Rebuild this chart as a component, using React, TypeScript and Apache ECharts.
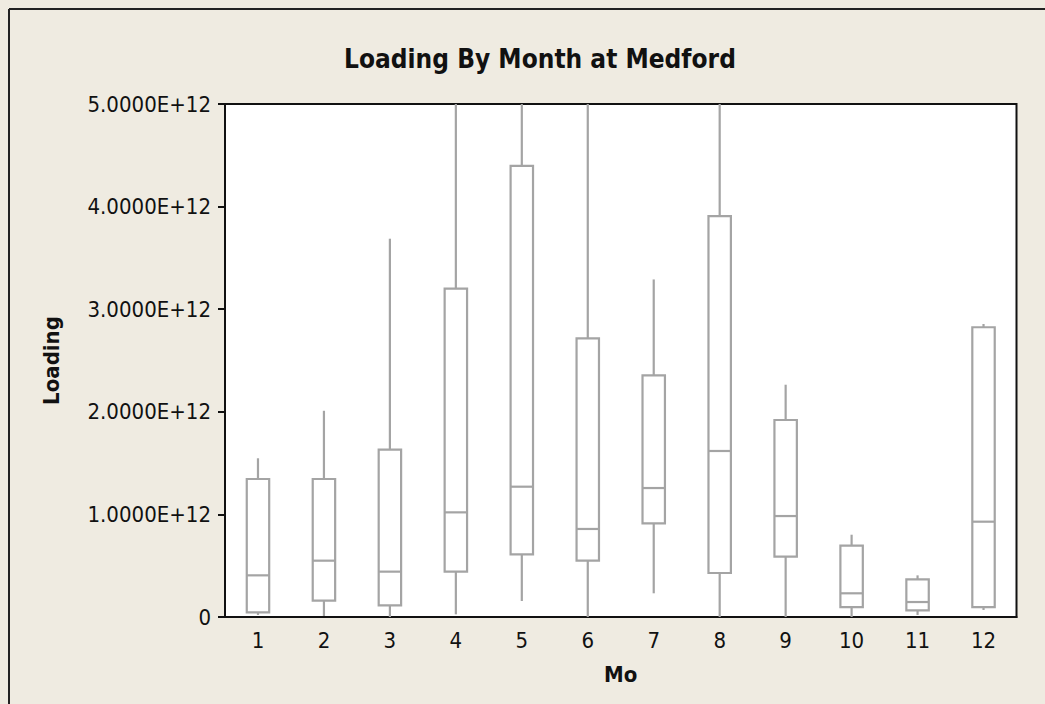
import React, { useEffect, useRef } from "react";
import * as echarts from "echarts";

// Monthly loading distribution at Medford (five-number summaries per month)
const months = ["1", "2", "3", "4", "5", "6", "7", "8", "9", "10", "11", "12"];
const lowWhisker = [0.02e12, 0.01e12, 0, 0.026e12, 0.156e12, 0, 0.231e12, 0, 0, 0, 0.02e12, 0.068e12];
const q1 = [0.046e12, 0.159e12, 0.114e12, 0.442e12, 0.611e12, 0.549e12, 0.913e12, 0.429e12, 0.588e12, 0.097e12, 0.065e12, 0.097e12];
const median = [0.406e12, 0.549e12, 0.442e12, 1.02e12, 1.27e12, 0.858e12, 1.257e12, 1.618e12, 0.984e12, 0.231e12, 0.146e12, 0.929e12];
const q3 = [1.345e12, 1.345e12, 1.631e12, 3.2e12, 4.396e12, 2.716e12, 2.355e12, 3.908e12, 1.92e12, 0.695e12, 0.367e12, 2.824e12];
const highWhisker = [1.547e12, 2.01e12, 3.687e12, 5.6e12, 5.8e12, 5.4e12, 3.29e12, 5.5e12, 2.264e12, 0.802e12, 0.406e12, 2.856e12];
const yTicks = [0, 1e12, 2e12, 3e12, 4e12, 5e12];

const Y_MAX = 5e12;
const FONT = "'DejaVu Sans Condensed', 'DejaVu Sans', Tahoma, sans-serif";
const BOX_COLOR = "#a4a4a4";

export default function App() {
  const ref = useRef<HTMLDivElement>(null);

  useEffect(() => {
    if (!ref.current) return;
    const chart = echarts.init(ref.current, undefined, { renderer: "svg" });

    // whiskers beyond the axis range are cut at the top of the plot
    const data = months.map((_, i) => [
      i,
      lowWhisker[i],
      q1[i],
      median[i],
      q3[i],
      Math.min(highWhisker[i], Y_MAX),
    ]);

    const renderItem = (params: any, api: any) => {
      const x = api.value(0);
      const pLow = api.coord([x, api.value(1)]);
      const pQ1 = api.coord([x, api.value(2)]);
      const pMed = api.coord([x, api.value(3)]);
      const pQ3 = api.coord([x, api.value(4)]);
      const pHigh = api.coord([x, api.value(5)]);
      const half = (api.size([1, 0])[0] * 0.34) / 2;
      const cx = pMed[0];
      const style = { stroke: BOX_COLOR, lineWidth: 2.2, fill: null };
      return {
        type: "group",
        children: [
          { type: "line", shape: { x1: cx, y1: pQ3[1], x2: cx, y2: pHigh[1] }, style },
          { type: "line", shape: { x1: cx, y1: pQ1[1], x2: cx, y2: pLow[1] }, style },
          {
            type: "rect",
            shape: { x: cx - half, y: pQ3[1], width: half * 2, height: pQ1[1] - pQ3[1] },
            style: { stroke: BOX_COLOR, lineWidth: 2.2, fill: "#ffffff" },
          },
          { type: "line", shape: { x1: cx - half, y1: pMed[1], x2: cx + half, y2: pMed[1] }, style },
        ],
      };
    };

    chart.setOption({
      animation: false,
      backgroundColor: "#efebe1",
      textStyle: { fontFamily: FONT },
      title: {
        text: "Loading By Month at Medford",
        left: 535,
        top: 41,
        textAlign: "center",
        textStyle: { fontFamily: FONT, fontWeight: "bold", fontSize: 26, color: "#111" },
      },
      graphic: [
        { type: "line", shape: { x1: 9, y1: 9, x2: 1045, y2: 9 }, style: { stroke: "#222", lineWidth: 2 } },
        { type: "line", shape: { x1: 9, y1: 9, x2: 9, y2: 704 }, style: { stroke: "#222", lineWidth: 2 } },
      ],
      grid: {
        left: 225,
        top: 104,
        right: 28.5,
        bottom: 87,
        show: true,
        backgroundColor: "#ffffff",
        borderColor: "#111",
        borderWidth: 2,
      },
      xAxis: {
        type: "category",
        data: months,
        boundaryGap: true,
        name: "Mo",
        nameLocation: "middle",
        nameGap: 46,
        nameTextStyle: { fontFamily: FONT, fontWeight: "bold", fontSize: 22, color: "#111" },
        axisLine: { lineStyle: { color: "#111", width: 2 } },
        axisTick: { alignWithLabel: true, length: 7, lineStyle: { color: "#111", width: 2 } },
        axisLabel: { fontFamily: FONT, fontSize: 22, color: "#111", margin: 12 },
        splitLine: { show: false },
      },
      yAxis: {
        type: "value",
        min: 0,
        max: Y_MAX,
        interval: yTicks[1] - yTicks[0],
        name: "Loading",
        nameLocation: "middle",
        nameGap: 163,
        nameRotate: 90,
        nameTextStyle: { fontFamily: FONT, fontWeight: "bold", fontSize: 22, color: "#111" },
        axisLine: { show: true, lineStyle: { color: "#111", width: 2 } },
        axisTick: { show: true, length: 7, lineStyle: { color: "#111", width: 2 } },
        axisLabel: {
          fontFamily: FONT,
          fontSize: 22,
          color: "#111",
          margin: 14,
          formatter: (v: number) => (v === 0 ? "0" : (v / 1e12).toFixed(4) + "E+12"),
        },
        splitLine: { show: false },
      },
      series: [
        {
          type: "custom",
          renderItem,
          data,
          encode: { x: 0, y: [1, 2, 3, 4, 5] },
          clip: true,
        },
      ],
    });

    return () => chart.dispose();
  }, []);

  return (
    <div
      ref={ref}
      style={{ position: "fixed", left: 0, top: 0, width: 1045, height: 704, background: "#efebe1" }}
    />
  );
}
